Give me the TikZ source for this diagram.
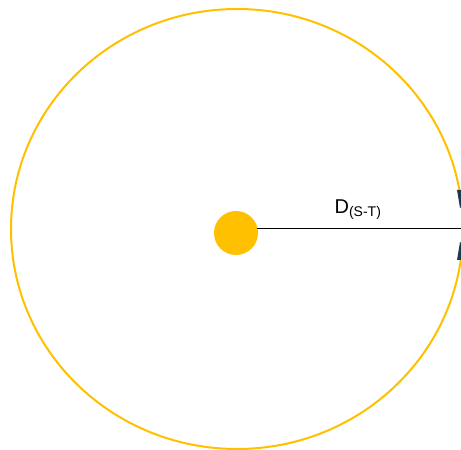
\documentclass[tikz,border=0pt]{standalone}
\usepackage{fontspec}
\setmainfont{Liberation Sans}
\usepackage{tikz}
\usetikzlibrary{arrows.meta,positioning}
\definecolor{sunyellow}{HTML}{FFC000}
\definecolor{satnavy}{HTML}{1B3A4E}

\begin{document}
\begin{tikzpicture}[x=1pt, y=1pt,
  orbit/.style={draw=sunyellow, line width=2pt},
  sundot/.style={circle, fill=sunyellow, inner sep=0pt, minimum size=44pt},
  distline/.style={draw=black, line width=0.9pt},
  satpart/.style={fill=satnavy, draw=none}]
  \useasboundingbox (0,0) rectangle (461,450);
  \clip (0,0) rectangle (461,450);

  % Orbit
  \draw[orbit] (237,221) ellipse [x radius=226, y radius=220];

  % Sun and target
  \node[sundot] (sun) at (236,217) {};
  \coordinate (sunedge) at (257,222);
  \coordinate (target) at (461,222);

  % Satellite (clipped at edge)
  \fill[satpart] (457,260) -- (462,260) -- (462,244) -- (460,242) -- cycle;
  \fill[satpart] (457,190) -- (462,190) -- (462,206) -- (460,208) -- cycle;

  % Distance
  \draw[distline] (sunedge) -- (target);
  \node[font=\fontsize{20}{23}\selectfont] (dlabel) at (358,240) {D\textsubscript{(S-T)}};
\end{tikzpicture}
\end{document}
